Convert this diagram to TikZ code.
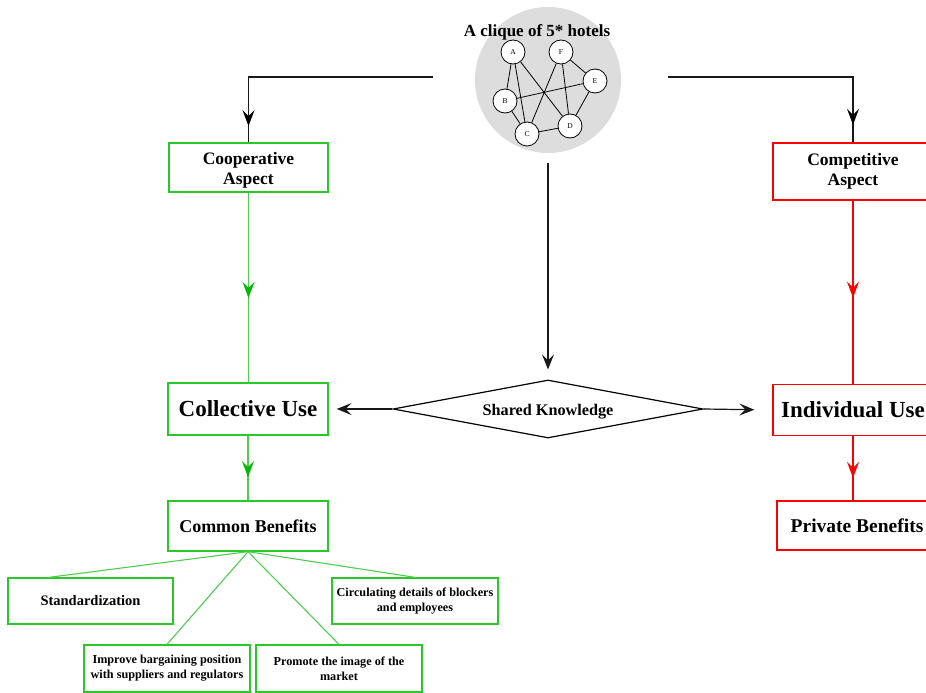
\documentclass[tikz,border=0pt]{standalone}
\usepackage{fontspec}
\setmainfont{Liberation Serif}
\usetikzlibrary{shapes.geometric,arrows.meta,decorations.markings,calc}
\definecolor{gline}{RGB}{80,205,80}
\definecolor{gbox}{RGB}{40,200,40}
\definecolor{gtip}{RGB}{0,185,0}
\definecolor{rline}{RGB}{255,0,0}
\definecolor{hubgray}{RGB}{221,221,221}
\definecolor{lineblack}{RGB}{25,25,25}
\newcommand{\fsz}[1]{\fontsize{#1}{#1}\selectfont}
\newcommand{\fszl}[2]{\fontsize{#1}{#2}\selectfont}
\begin{document}
\begin{tikzpicture}[x=1pt,y=-1pt,
  box/.style={line width=1.3pt, fill=white, align=center, inner sep=0pt, font=\bfseries},
  gbx/.style={box, draw=gbox},
  rbx/.style={box, draw=rline},
  tipmark/.style 2 args={postaction={decorate}, decoration={markings,
      mark=at position #1 with {\arrow[color=#2]{Stealth[length=16pt,width=12pt,inset=6pt]}}}},
  endtip/.style={-{Stealth[length=15pt,width=12pt,inset=6pt]}},
  hotel/.style={circle, draw=black, line width=0.8pt, fill=white, minimum size=24pt, inner sep=0pt, font=\fsz{7.5}},
  hedge/.style={draw=black, line width=0.8pt},
  blk/.style={draw=lineblack, line width=1.2pt},
  grn/.style={draw=gline, line width=1.3pt},
  red/.style={draw=rline, line width=1.3pt},
]
\useasboundingbox (0,0) rectangle (926,693);

% hub
\node[circle, fill=hubgray, minimum size=146pt, inner sep=0pt] (hub) at (548,80) {};
\node[font=\bfseries\fsz{17}] (title) at (537,32) {A clique of 5* hotels};
\node[hotel] (A) at (513,52) {A};
\node[hotel] (F) at (561,52) {F};
\node[hotel] (E) at (595,81) {E};
\node[hotel] (B) at (505,101) {B};
\node[hotel] (D) at (570,126) {D};
\node[hotel] (C) at (527,134) {C};
\draw[hedge] (A) -- (B);
\draw[hedge] (A) -- (C);
\draw[hedge] (A) -- (D);
\draw[hedge] (F) -- (C);
\draw[hedge] (F) -- (D);
\draw[hedge] (F) -- (E);
\draw[hedge] (B) -- (E);
\draw[hedge] (B) -- (C);
\draw[hedge] (C) -- (D);
\draw[hedge] (D) -- (E);

% main boxes
\node[gbx, font=\bfseries\fszl{17.5}{20}, minimum width=159pt, minimum height=49pt] (coop) at (248.5,167.5) {\rule{0pt}{18pt}Cooperative\\Aspect};
\node[rbx, font=\bfseries\fszl{17.5}{20}, minimum width=160pt, minimum height=57pt] (comp) at (853,171.5) {Competitive\\Aspect};
\node[gbx, font=\bfseries\fsz{23}, minimum width=160pt, minimum height=52pt] (coll) at (248,409) {Collective Use};
\node[rbx, font=\bfseries\fsz{23}, minimum width=160pt, minimum height=51pt] (ind) at (853,410) {Individual Use};
\node[draw=black, line width=1.2pt, diamond, fill=white, minimum width=310pt, minimum height=58pt, inner sep=0pt, aspect=5.3, font=\bfseries\fsz{16.2}] (sk) at (548,409) {\rule{0pt}{16pt}Shared Knowledge};
\node[gbx, font=\bfseries\fsz{18}, minimum width=160pt, minimum height=50pt] (comm) at (248,526) {Common Benefits};
\node[rbx, font=\bfseries\fsz{19.5}, minimum width=160pt, minimum height=49pt] (priv) at (857,525.5) {Private Benefits};

% benefit boxes
\node[gbx, font=\bfseries\fsz{14.5}, minimum width=165pt, minimum height=46pt] (std) at (90.5,601) {Standardization};
\node[gbx, font=\bfseries\fszl{12.2}{15}, minimum width=166pt, minimum height=46pt] (circ) at (415,601) {Circulating details of blockers\\and employees};
\node[gbx, font=\bfseries\fszl{12.2}{15}, minimum width=166pt, minimum height=47pt] (impr) at (167,668.5) {Improve bargaining position\\with suppliers and regulators};
\node[gbx, font=\bfseries\fszl{12.2}{15}, minimum width=166pt, minimum height=47pt] (prom) at (339,668.5) {Promote the image of the\\market};

% connectors from hub
\coordinate (tl) at (433,77);
\coordinate (tr) at (668,77);
\draw[blk, tipmark={0.935}{black}] (tl) -| (coop.north);
\draw[blk, tipmark={0.93}{black}] (tr) -| (comp.north);
\draw[blk, endtip, shorten <=10pt, shorten >=10pt] (hub.south) -- (sk.north);
\draw[blk, endtip, shorten >=8pt] (sk.west) -- (coll.east);
\draw[blk, endtip, shorten >=18pt] (sk.east) -- (ind.west);

% green chain
\draw[grn, tipmark={0.555}{gtip}] (coop.south) -- (coop.south |- coll.north);
\draw[grn, tipmark={0.64}{gtip}] (coll.south) -- (comm.north);
% red chain
\draw[red, tipmark={0.53}{rline}] (comp.south) -- (ind.north);
\draw[red, tipmark={0.65}{rline}] (ind.south) -- (ind.south |- priv.north);

% fan out
\draw[grn, line width=1.1pt] (comm.south) -- ($(std.north west)!0.25!(std.north east)$);
\draw[grn, line width=1.1pt] (comm.south) -- (circ.north);
\draw[grn, line width=1.1pt] (comm.south) -- (impr.north);
\draw[grn, line width=1.1pt] (comm.south) -- (prom.north);
\end{tikzpicture}
\end{document}
